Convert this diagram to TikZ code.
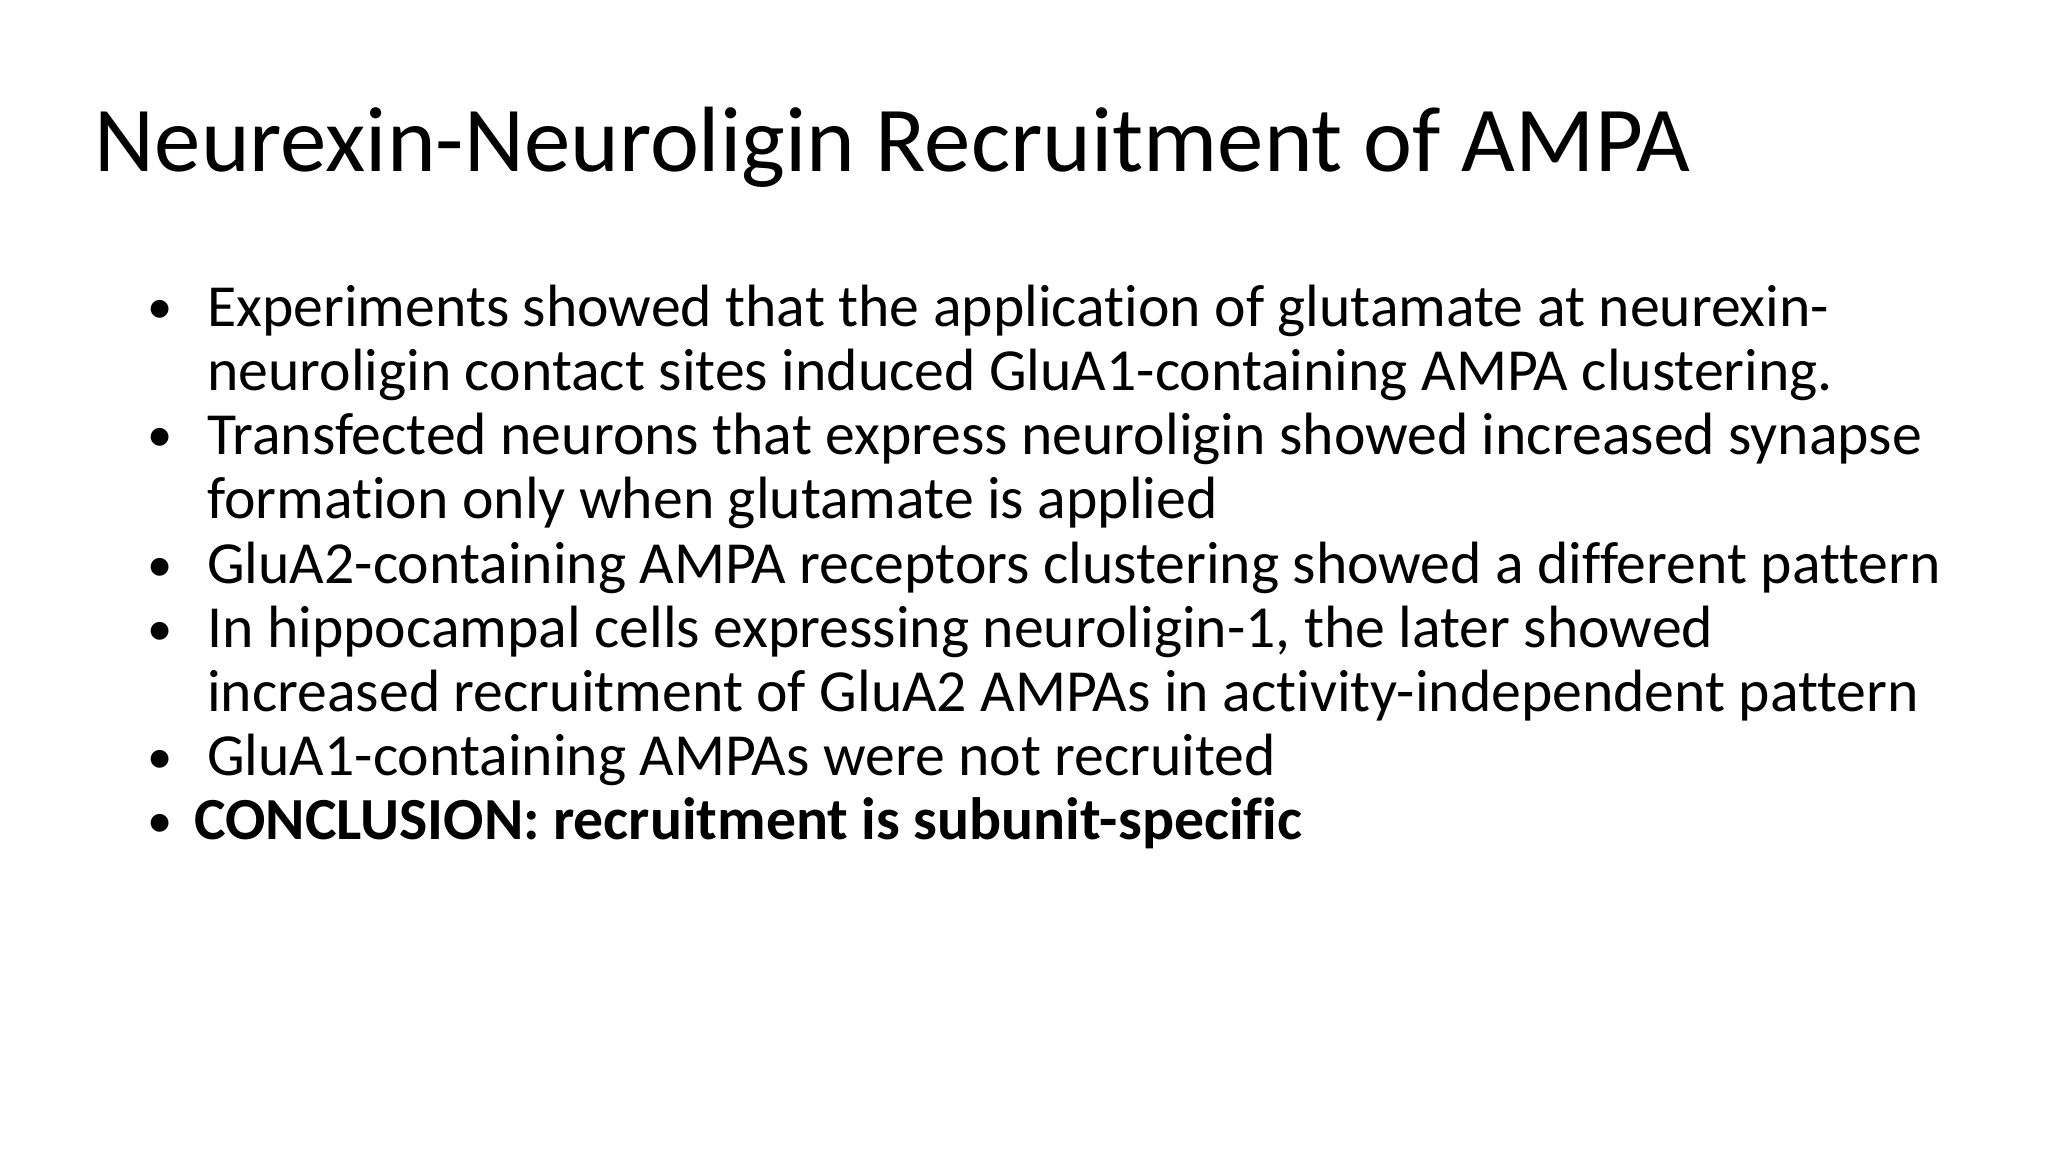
\documentclass[tikz,border=0pt]{standalone}
\usepackage{fontspec}
\setmainfont{Carlito}[Ligatures=NoCommon]
\begin{document}
\begin{tikzpicture}[x=0.01cm,y=-0.01cm,
  ln/.style={anchor=base west,inner sep=0pt,font=\fontsize{13pt}{14pt}\selectfont},
  bul/.style={anchor=base west,inner sep=0pt,font=\fontsize{11pt}{14pt}\selectfont}]
\useasboundingbox[fill=white] (0,0) rectangle (1568,882);
\node[anchor=base west,inner sep=0pt,font=\fontsize{20.2pt}{24pt}\selectfont] (title) at (72,131) {Neurexin-Neuroligin Recruitment of AMPA};
\node[bul] (b1) at (112,248) {•};
\node[ln] (l1) at (158,250) {Experiments showed that the application of glutamate at neurexin-};
\node[ln] (l2) at (158,299) {neuroligin contact sites induced GluA1-containing AMPA clustering.};
\node[bul] (b2) at (112,346) {•};
\node[ln] (l3) at (158,348) {Transfected neurons that express neuroligin showed increased synapse};
\node[ln] (l4) at (158,397) {formation only when glutamate is applied};
\node[bul] (b3) at (112,445) {•};
\node[ln] (l5) at (158,447) {GluA2-containing AMPA receptors clustering showed a different pattern};
\node[bul] (b4) at (112,494) {•};
\node[ln] (l6) at (158,496) {In hippocampal cells expressing neuroligin-1, the later showed};
\node[ln] (l7) at (158,545) {increased recruitment of GluA2 AMPAs in activity-independent pattern};
\node[bul] (b5) at (112,592) {•};
\node[ln] (l8) at (158,594) {GluA1-containing AMPAs were not recruited};
\node[bul] (b6) at (112,641) {•};
\node[ln,font=\fontsize{13pt}{14pt}\selectfont\bfseries] (l9) at (148,643) {CONCLUSION: recruitment is subunit-specific};
\end{tikzpicture}
\end{document}
